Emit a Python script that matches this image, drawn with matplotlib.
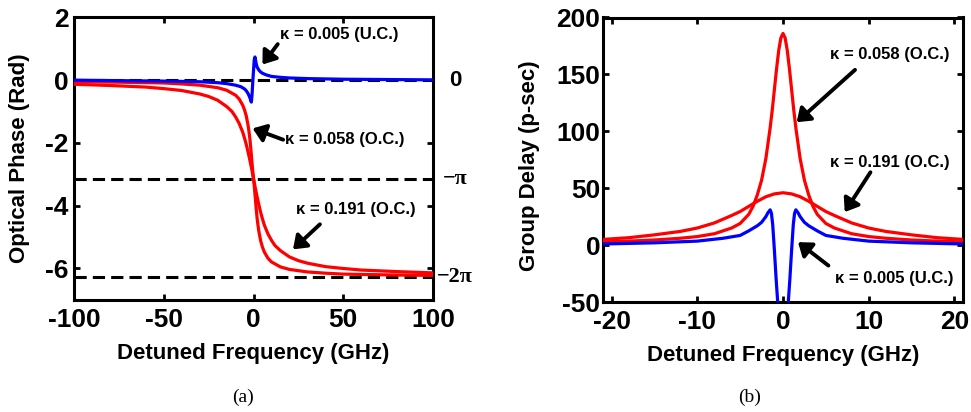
import matplotlib.pyplot as plt
import numpy as np

plt.rcParams['font.family'] = ['Liberation Sans', 'DejaVu Sans']
plt.rcParams['font.weight'] = 'bold'
plt.rcParams['axes.unicode_minus'] = False

# (a) optical phase (rad) vs detuned frequency (GHz)
phase_x_058 = [-100, -80, -60, -50, -40, -30, -20, -15, -10, -8,
               -6, -5, -4, -3, -2.5, -2, -1.5, -1, -0.5, 0,
               0.5, 1, 1.5, 2, 2.5, 3, 4, 5, 6, 8,
               10, 15, 20, 30, 40, 50, 60, 80, 100]
phase_y_058 = [-0.05, -0.06, -0.08, -0.09, -0.12, -0.16, -0.24, -0.32, -0.48, -0.60,
               -0.80, -0.95, -1.15, -1.45, -1.65, -1.88, -2.18, -2.53, -2.85, -3.14,
               -3.43, -3.75, -4.10, -4.40, -4.63, -4.83, -5.13, -5.33, -5.48, -5.68,
               -5.80, -5.96, -6.04, -6.12, -6.16, -6.19, -6.20, -6.22, -6.23]

phase_x_191 = [-100, -80, -60, -50, -40, -30, -25, -20, -15, -12,
               -10, -8, -6, -5, -4, -3, -2, -1, 0, 1,
               2, 3, 4, 5, 6, 8, 10, 12, 15, 20,
               25, 30, 40, 50, 60, 80, 100]
phase_y_191 = [-0.13, -0.17, -0.22, -0.27, -0.33, -0.44, -0.52, -0.64, -0.84, -1.00,
               -1.17, -1.38, -1.66, -1.85, -2.06, -2.30, -2.56, -2.84, -3.14, -3.44,
               -3.72, -3.98, -4.22, -4.43, -4.62, -4.90, -5.11, -5.28, -5.44, -5.64,
               -5.76, -5.84, -5.95, -6.01, -6.06, -6.11, -6.15]

phase_x_005 = [-100, -50, -30, -20, -15, -10, -7, -5, -4, -3,
               -2, -1.5, -1.2, -0.8, -0.4, 0, 0.4, 0.8, 1.2, 1.6,
               2, 3, 4, 5, 7, 10, 15, 20, 30, 50, 100]
phase_y_005 = [0.0, -0.03, -0.05, -0.08, -0.11, -0.16, -0.21, -0.28, -0.34, -0.43,
               -0.56, -0.65, -0.70, -0.45, -0.05, 0.30, 0.65, 0.74, 0.62, 0.50,
               0.42, 0.32, 0.26, 0.22, 0.17, 0.12, 0.09, 0.07, 0.05, 0.03, 0.01]

ref_levels = [0, -np.pi, -2 * np.pi]
ref_labels = ['0', '\u2212\u03c0', '\u22122\u03c0']

# (b) group delay (ps) vs detuned frequency (GHz)
delay_x_058 = [-21, -18, -15, -12, -10, -8, -6, -5, -4, -3.5,
               -3, -2.5, -2, -1.5, -1.25, -1, -0.75, -0.5, -0.25, 0,
               0.25, 0.5, 0.75, 1, 1.25, 1.5, 2, 2.5, 3, 3.5,
               4, 5, 6, 8, 10, 12, 15, 18, 21]
delay_y_058 = [2.8, 3.5, 4.5, 6, 7.5, 10, 15, 19, 27, 34,
               44, 57, 76, 103, 119, 137, 155, 171, 182, 186,
               182, 171, 155, 137, 119, 103, 76, 57, 44, 34,
               27, 19, 15, 10, 7.5, 6, 4.5, 3.5, 2.8]

delay_x_191 = [-21, -18, -15, -12, -10, -8, -6, -5, -4, -3, -2, -1, 0,
               1, 2, 3, 4, 5, 6, 8, 10, 12, 15, 18, 21]
delay_y_191 = [5, 6.5, 9, 12, 15, 19.5, 26, 29.5, 34, 38.5, 42.5, 45, 46,
               45, 42.5, 38.5, 34, 29.5, 26, 19.5, 15, 12, 9, 6.5, 5]

delay_x_005 = [-21, -15, -10, -7, -5, -4, -3, -2.5, -2, -1.75,
               -1.5, -1.35, -1.2, -1.0, -0.8, -0.6, -0.4, -0.2, 0,
               0.2, 0.4, 0.6, 0.8, 1.0, 1.2, 1.35, 1.5, 1.75, 2,
               2.5, 3, 4, 5, 7, 10, 15, 21]
delay_y_005 = [1, 2, 3.5, 6, 8.5, 12.5, 17, 20, 25, 28.5,
               31, 28, 18, -5, -30, -52, -90, -150, -180,
               -150, -90, -52, -30, -5, 18, 28, 31, 28.5, 25,
               20, 17, 12.5, 8.5, 6, 3.5, 2, 1]

RED = '#ff0000'
BLUE = '#0000ff'
LW = 2.3
TICK_FS = 19
LABEL_FS = 16
NOTE_FS = 12

fig = plt.figure(figsize=(9.71, 4.12), dpi=100)
ax1 = fig.add_axes([74 / 971, 1 - 299.5 / 412, 359 / 971, 282 / 412])
ax2 = fig.add_axes([603 / 971, 1 - 302 / 412, 360 / 971, 284.5 / 412])


def style(ax):
    for s in ax.spines.values():
        s.set_linewidth(2.2)
    ax.tick_params(direction='in', length=4, width=2, top=True, right=True,
                   labelsize=TICK_FS)
    for lab in ax.get_xticklabels() + ax.get_yticklabels():
        lab.set_fontweight('bold')


# panel (a)
for lvl in ref_levels:
    ax1.axhline(lvl, color='k', lw=2.2, ls=(0, (4, 2)), zorder=1)
ax1.plot(phase_x_058, phase_y_058, color=RED, lw=LW, zorder=3)
ax1.plot(phase_x_191, phase_y_191, color=RED, lw=LW, zorder=3)
ax1.plot(phase_x_005, phase_y_005, color=BLUE, lw=LW, zorder=4)
ax1.set_xlim(-100, 100)
ax1.set_ylim(-7, 2)
ax1.set_xticks([-100, -50, 0, 50, 100])
ax1.set_yticks([-6, -4, -2, 0, 2])
ax1.tick_params(axis='x', pad=6)
ax1.tick_params(axis='y', pad=4)
style(ax1)
ax1.set_xlabel('Detuned Frequency (GHz)', fontsize=LABEL_FS, fontweight='bold')
ax1.set_ylabel('Optical Phase (Rad)', fontsize=LABEL_FS, fontweight='bold')
ax1.xaxis.set_label_coords(0.5, -0.155)
ax1.yaxis.set_label_coords(-0.122, 0.5)
for lvl, lab in zip(ref_levels, ref_labels):
    fam = ['Liberation Sans'] if lab == '0' else ['Liberation Serif', 'DejaVu Serif']
    ax1.text(1.062, lvl, lab, transform=ax1.get_yaxis_transform(),
             ha='center', va='center', fontsize=16, fontweight='bold', family=fam)

arrow = dict(arrowstyle='-|>,head_length=0.75,head_width=0.55', lw=2.8,
             color='k', shrinkA=0, shrinkB=0)
ax1.annotate('', xy=(5, 0.5), xytext=(13.5, 1.15), arrowprops=arrow)
ax1.annotate('', xy=(-0.5, -1.54), xytext=(16.5, -1.9), arrowprops=arrow)
ax1.annotate('', xy=(22, -5.4), xytext=(37, -4.6), arrowprops=arrow)
ax1.text(47.5, 1.46, '\u03ba = 0.005 (U.C.)', ha='center', va='center', fontsize=NOTE_FS)
ax1.text(51, -1.9, '\u03ba = 0.058 (O.C.)', ha='center', va='center', fontsize=NOTE_FS)
ax1.text(57, -4.13, '\u03ba = 0.191 (O.C.)', ha='center', va='center', fontsize=NOTE_FS)

# panel (b)
ax2.plot(delay_x_058, delay_y_058, color=RED, lw=LW, zorder=3)
ax2.plot(delay_x_191, delay_y_191, color=RED, lw=LW, zorder=3)
ax2.plot(delay_x_005, delay_y_005, color=BLUE, lw=LW, zorder=4)
ax2.set_xlim(-21, 21)
ax2.set_ylim(-50, 200)
ax2.set_xticks([-20, -10, 0, 10, 20])
ax2.set_yticks([-50, 0, 50, 100, 150, 200])
ax2.tick_params(axis='x', pad=6)
ax2.tick_params(axis='y', pad=2)
style(ax2)
ax2.set_xlabel('Detuned Frequency (GHz)', fontsize=LABEL_FS, fontweight='bold')
ax2.set_ylabel('Group Delay (p-sec)', fontsize=LABEL_FS, fontweight='bold')
ax2.xaxis.set_label_coords(0.5, -0.15)
ax2.yaxis.set_label_coords(-0.175, 0.48)

ax2.annotate('', xy=(1.6, 108), xytext=(8.4, 154), arrowprops=arrow)
ax2.annotate('', xy=(7.2, 29), xytext=(10.2, 64), arrowprops=arrow)
ax2.annotate('', xy=(1.75, 2.6), xytext=(5.3, -18), arrowprops=arrow)
ax2.text(12.5, 167.5, '\u03ba = 0.058 (O.C.)', ha='center', va='center', fontsize=NOTE_FS)
ax2.text(12.5, 73, '\u03ba = 0.191 (O.C.)', ha='center', va='center', fontsize=NOTE_FS)
ax2.text(13, -29, '\u03ba = 0.005 (U.C.)', ha='center', va='center', fontsize=NOTE_FS)

fig.text(243 / 971, 1 - 397 / 412, '(a)', ha='center', va='center',
         family='Liberation Serif', fontweight='normal', fontsize=14)
fig.text(750 / 971, 1 - 397 / 412, '(b)', ha='center', va='center',
         family='Liberation Serif', fontweight='normal', fontsize=14)

fig.savefig('out.png', dpi=100)
